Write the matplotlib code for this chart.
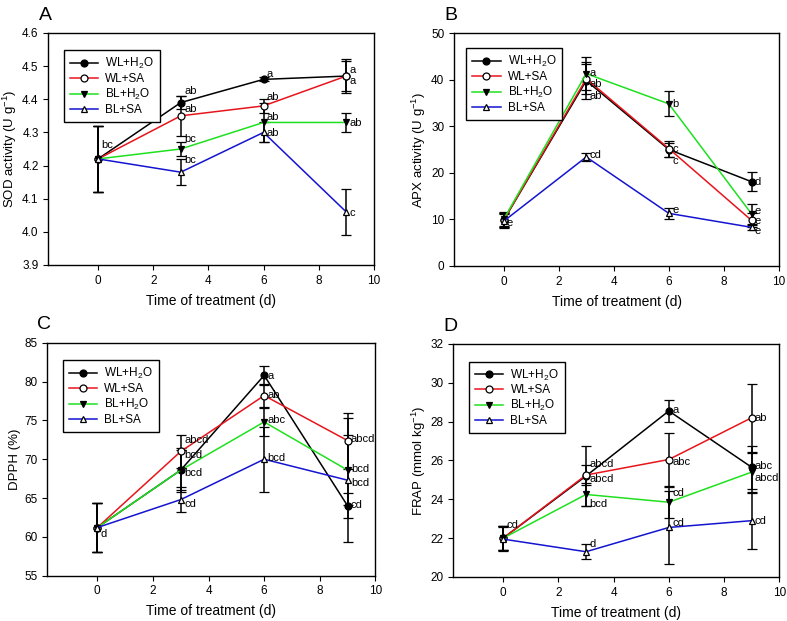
# -*- coding: utf-8 -*-
import matplotlib
matplotlib.use("Agg")
import matplotlib.pyplot as plt
from matplotlib.lines import Line2D

plt.rcParams['font.family'] = ['Liberation Sans', 'DejaVu Sans']
plt.rcParams['mathtext.fontset'] = 'custom'
plt.rcParams['mathtext.rm'] = 'Liberation Sans'

# Zeitpunkte (d)
days = [0, 3, 6, 9]
series_names = ['WL+H$_2$O', 'WL+SA', 'BL+H$_2$O', 'BL+SA']

# A: SOD
sod_wl_h2o = [4.22, 4.39, 4.46, 4.47]
sod_wl_sa = [4.22, 4.35, 4.38, 4.47]
sod_bl_h2o = [4.22, 4.25, 4.33, 4.33]
sod_bl_sa = [4.22, 4.18, 4.30, 4.06]
sod_err_wl_h2o = [0.10, 0.02, 0.006, 0.05]
sod_err_wl_sa = [0.10, 0.06, 0.02, 0.045]
sod_err_bl_h2o = [0.10, 0.02, 0.06, 0.03]
sod_err_bl_sa = [0.10, 0.04, 0.03, 0.07]

# B: APX
apx_wl_h2o = [9.8, 39.8, 25.0, 18.1]
apx_wl_sa = [9.8, 40.2, 25.2, 9.8]
apx_bl_h2o = [10.0, 41.3, 34.8, 11.2]
apx_bl_sa = [9.6, 23.4, 11.3, 8.3]
apx_err_wl_h2o = [1.5, 4.0, 1.5, 2.0]
apx_err_wl_sa = [1.5, 3.2, 1.7, 1.5]
apx_err_bl_h2o = [1.5, 3.6, 2.7, 2.1]
apx_err_bl_sa = [1.5, 0.8, 1.2, 0.5]

# C: DPPH
dpph_wl_h2o = [61.2, 68.6, 80.8, 64.0]
dpph_wl_sa = [61.2, 71.0, 78.2, 72.4]
dpph_bl_h2o = [61.2, 68.6, 74.8, 68.6]
dpph_bl_sa = [61.2, 64.8, 70.0, 67.3]
dpph_err_wl_h2o = [3.2, 2.6, 1.2, 1.6]
dpph_err_wl_sa = [3.2, 2.1, 1.5, 3.6]
dpph_err_bl_h2o = [3.2, 2.8, 1.8, 4.5]
dpph_err_bl_sa = [3.2, 1.6, 4.2, 8.0]

# D: FRAP
frap_wl_h2o = [22.0, 25.2, 28.55, 25.65]
frap_wl_sa = [22.0, 25.25, 26.05, 28.2]
frap_bl_h2o = [22.0, 24.25, 23.85, 25.4]
frap_bl_sa = [21.95, 21.3, 22.55, 22.9]
frap_err_wl_h2o = [0.6, 1.55, 0.55, 1.1]
frap_err_wl_sa = [0.6, 0.5, 1.35, 1.75]
frap_err_bl_h2o = [0.6, 0.6, 0.8, 1.0]
frap_err_bl_sa = [0.6, 0.4, 1.9, 1.45]

# Signifikanzbuchstaben: (tag, y, text)
sod_letters = [(0, 4.262, 'bc'), (3, 4.424, 'ab'), (3, 4.37, 'ab'), (3, 4.28, 'bc'),
               (3, 4.216, 'bc'), (6, 4.475, 'a'), (6, 4.407, 'ab'), (6, 4.345, 'ab'),
               (6, 4.297, 'ab'), (9, 4.488, 'a'), (9, 4.455, 'a'), (9, 4.327, 'ab'),
               (9, 4.058, 'c')]
apx_letters = [(0, 9.2, 'e'), (3, 41.5, 'a'), (3, 39.1, 'ab'), (3, 36.4, 'ab'),
               (3, 23.9, 'cd'), (6, 34.7, 'b'), (6, 25.1, 'c'), (6, 22.6, 'c'),
               (6, 12.0, 'e'), (9, 18.1, 'd'), (9, 11.8, 'e'), (9, 9.7, 'e'), (9, 7.6, 'e')]
dpph_letters = [(0, 60.4, 'd'), (3, 72.5, 'abcd'), (3, 70.5, 'bcd'), (3, 68.2, 'bcd'),
                (3, 64.2, 'cd'), (6, 80.7, 'a'), (6, 78.3, 'ab'), (6, 75.0, 'abc'),
                (6, 70.2, 'bcd'), (9, 72.6, 'abcd'), (9, 68.7, 'bcd'), (9, 67.0, 'bcd'),
                (9, 64.1, 'cd')]
frap_letters = [(0, 22.7, 'cd'), (3, 25.83, 'abcd'), (3, 25.05, 'abcd'), (3, 23.76, 'bcd'),
                (3, 21.7, 'd'), (6, 28.6, 'a'), (6, 25.9, 'abc'), (6, 24.3, 'cd'),
                (6, 22.8, 'cd'), (9, 28.2, 'ab'), (9, 25.7, 'abc'), (9, 25.1, 'abcd'),
                (9, 22.87, 'cd')]

colors = ['black', '#e8141c', '#1fe01f', '#1414d0']
markers = ['o', 'o', 'v', '^']
faces = ['black', 'white', 'black', 'white']


def panel(ax, values, errors, letters, ylim, yticks, ylabel, fmt, legend_anchor, tag):
    for i in range(4):
        ax.errorbar(days, values[i], yerr=errors[i], color=colors[i], lw=1.1,
                    marker=markers[i], mfc=faces[i], mec='black', ms=5, mew=0.9,
                    ecolor='black', elinewidth=1.1, capsize=3.5, capthick=1.1,
                    zorder=3)
    for x, y, t in letters:
        ax.text(x + 0.12, y, t, fontsize=8, va='center', ha='left', zorder=4)
    ax.set_xlim(-1.8, 10)
    ax.set_ylim(*ylim)
    ax.set_xticks([0, 2, 4, 6, 8, 10])
    ax.set_yticks(yticks)
    ax.set_yticklabels([fmt % v for v in yticks])
    ax.tick_params(direction='out', length=3.5, labelsize=8.5, top=False, right=False)
    ax.set_xlabel('Time of treatment (d)', fontsize=10, labelpad=5)
    ax.set_ylabel(ylabel, fontsize=9.5, labelpad=2)
    handles = [Line2D([], [], color=colors[i], lw=1.1, marker=markers[i],
                      mfc=faces[i], mec='black', ms=5, mew=0.9) for i in range(4)]
    leg = ax.legend(handles, series_names, loc='upper left', bbox_to_anchor=legend_anchor,
                    fontsize=8.5, fancybox=False, edgecolor='black', framealpha=1,
                    handlelength=2.4, borderpad=0.5, labelspacing=0.15,
                    handletextpad=0.6)
    leg.get_frame().set_linewidth(1.0)
    for s in ax.spines.values():
        s.set_linewidth(1.0)
    ax.text(-0.03, 1.04, tag, transform=ax.transAxes, fontsize=14,
            ha='left', va='bottom')


fig = plt.figure(figsize=(7.87, 6.21), dpi=100)
axA = fig.add_axes([0.0615, 0.5733, 0.4135, 0.3736])
axB = fig.add_axes([0.5769, 0.5717, 0.413, 0.375])
axC = fig.add_axes([0.0600, 0.0729, 0.4170, 0.3752])
axD = fig.add_axes([0.5762, 0.0709, 0.4140, 0.3752])

panel(axA, [sod_wl_h2o, sod_wl_sa, sod_bl_h2o, sod_bl_sa],
      [sod_err_wl_h2o, sod_err_wl_sa, sod_err_bl_h2o, sod_err_bl_sa], sod_letters,
      (3.9, 4.6), [3.9, 4.0, 4.1, 4.2, 4.3, 4.4, 4.5, 4.6],
      'SOD activity (U g$^{-1}$)', '%.1f', (0.03, 0.95), 'A')
panel(axB, [apx_wl_h2o, apx_wl_sa, apx_bl_h2o, apx_bl_sa],
      [apx_err_wl_h2o, apx_err_wl_sa, apx_err_bl_h2o, apx_err_bl_sa], apx_letters,
      (0, 50), [0, 10, 20, 30, 40, 50],
      'APX activity (U g$^{-1}$)', '%d', (0.02, 0.96), 'B')
panel(axC, [dpph_wl_h2o, dpph_wl_sa, dpph_bl_h2o, dpph_bl_sa],
      [dpph_err_wl_h2o, dpph_err_wl_sa, dpph_err_bl_h2o, dpph_err_bl_sa], dpph_letters,
      (55, 85), [55, 60, 65, 70, 75, 80, 85],
      'DPPH (%)', '%d', (0.03, 0.95), 'C')
panel(axD, [frap_wl_h2o, frap_wl_sa, frap_bl_h2o, frap_bl_sa],
      [frap_err_wl_h2o, frap_err_wl_sa, frap_err_bl_h2o, frap_err_bl_sa], frap_letters,
      (20, 32), [20, 22, 24, 26, 28, 30, 32],
      'FRAP (mmol kg$^{-1}$)', '%d', (0.03, 0.95), 'D')

fig.savefig('out.png', dpi=100)
